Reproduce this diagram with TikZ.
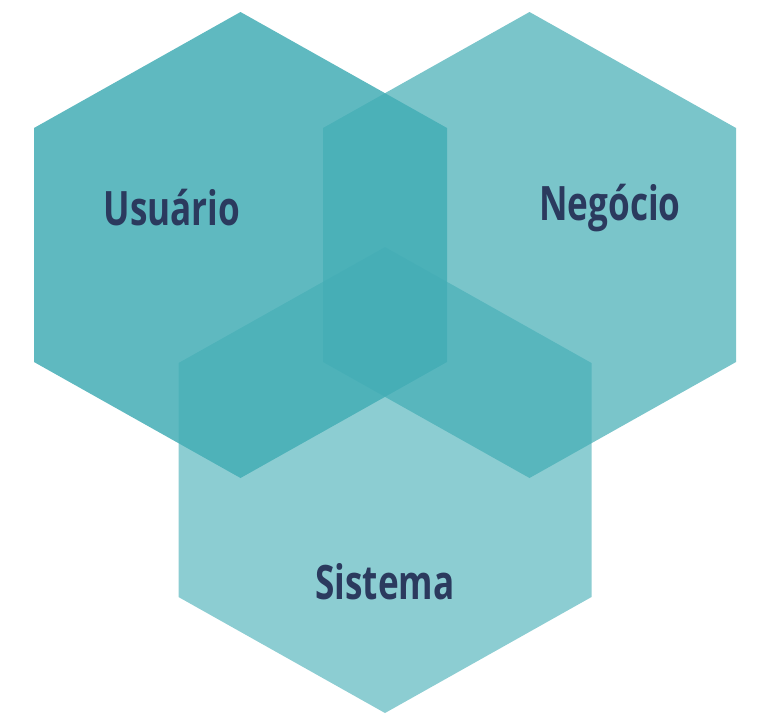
\documentclass[tikz,border=0pt]{standalone}
\usepackage{fontspec}
\usepackage{xcolor}
\usepackage{tikz}
\usetikzlibrary{calc,positioning}
\newfontfamily\hexfont{Open Sans}[FakeStretch=0.74]
\definecolor{hexTeal}{RGB}{67,173,181}
\definecolor{hexNavy}{RGB}{43,58,94}

\tikzset{
  hexfill/.style={fill=hexTeal, fill opacity=#1, draw=none},
  hexlabel/.style={text=hexNavy, font=\hexfont\bfseries\fontsize{27}{30}\selectfont, inner sep=0pt}
}

% hexagon around a centre, sizes in px
\newcommand{\hexagonat}[2]{%
  (#1,#2-233) -- (#1+206.5,#2-117) -- (#1+206.5,#2+117) -- (#1,#2+233)
  -- (#1-206.5,#2+117) -- (#1-206.5,#2-117) -- cycle}

\begin{document}
\begin{tikzpicture}[x=0.02cm, y=-0.02cm]
\useasboundingbox (0,0) rectangle (759,721);

\fill[hexfill=0.61] \hexagonat{385}{480};
\fill[hexfill=0.71] \hexagonat{529.5}{245};
\fill[hexfill=0.85] \hexagonat{240.5}{245};

\node[hexlabel] (usuario) at (172,208) {Usuário};
\node[hexlabel] (negocio) at (610,208) {Negócio};
\node[hexlabel] (sistema) at (385,582) {Sistema};
\end{tikzpicture}
\end{document}
